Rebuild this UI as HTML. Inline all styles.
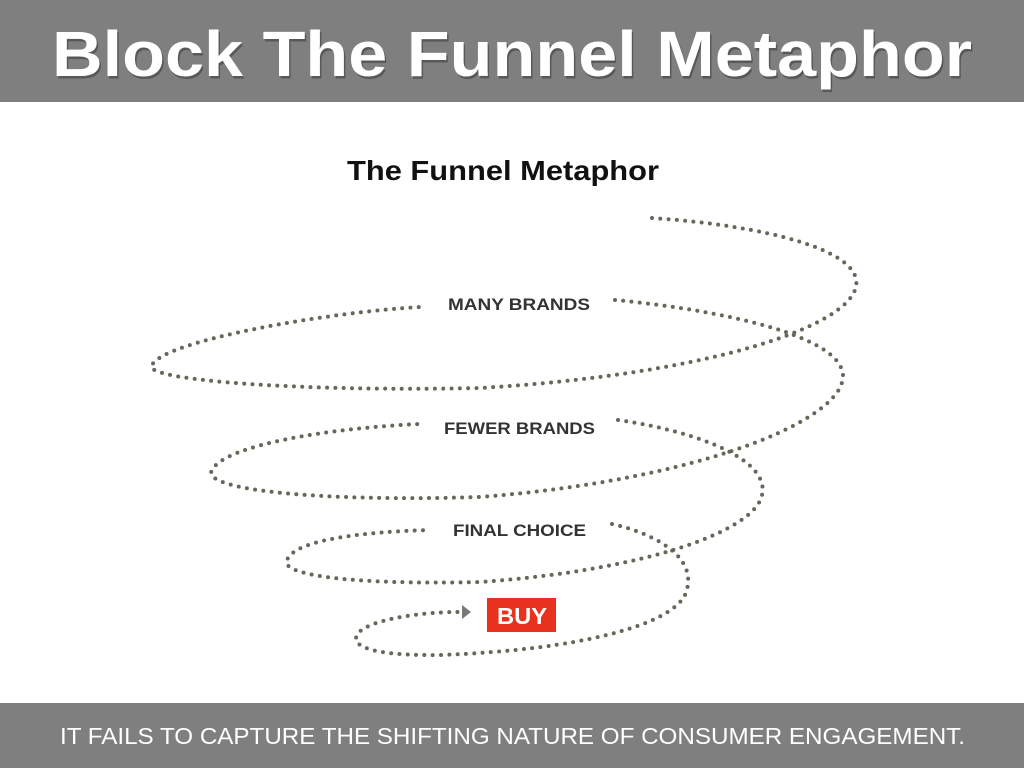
<!DOCTYPE html>
<html><head><meta charset="utf-8"><style>
html,body{margin:0;padding:0;width:1024px;height:768px;background:#fff;overflow:hidden;font-family:"Liberation Sans",sans-serif;}
</style></head><body>
<svg style="position:absolute;left:0;top:0" width="1024" height="768">
<rect x="0" y="0" width="1024" height="102" fill="#7f7f7f"/>
<rect x="0" y="703" width="1024" height="65" fill="#7f7f7f"/>
<text x="52" y="76" font-family="Liberation Sans, sans-serif" font-weight="bold" font-size="64" fill="#000" opacity="0.3" textLength="920" lengthAdjust="spacingAndGlyphs" transform="translate(1.5,2.5)">Block The Funnel Metaphor</text>
<text x="52" y="76" font-family="Liberation Sans, sans-serif" font-weight="bold" font-size="64" fill="#fff" textLength="920" lengthAdjust="spacingAndGlyphs">Block The Funnel Metaphor</text>
<text x="60" y="744" font-family="Liberation Sans, sans-serif" font-size="23" fill="#fff" textLength="905" lengthAdjust="spacingAndGlyphs">IT FAILS TO CAPTURE THE SHIFTING NATURE OF CONSUMER ENGAGEMENT.</text>
<text x="347" y="180" font-family="Liberation Sans, sans-serif" font-weight="bold" font-size="28" fill="#111" textLength="312" lengthAdjust="spacingAndGlyphs">The Funnel Metaphor</text>
<g fill="none" stroke="#666659" stroke-width="4" stroke-linecap="round" stroke-dasharray="0 8.3">
<path d="M652,218 C760,225 870,250 855,290 C840,330 700,375 480,388 C300,392 140,380 152,365 C165,340 330,312 420,307"/>
<path d="M615,300 C720,310 840,335 843,375 C845,420 700,480 480,497 C320,502 200,490 212,470 C225,445 330,428 420,424"/>
<path d="M618,420 C700,432 770,460 762,495 C755,530 650,570 480,582 C350,585 280,575 287,560 C295,540 360,532 430,530"/>
<path d="M612,524 C660,535 700,560 685,595 C670,625 580,650 440,655 C380,656 350,648 357,635 C365,620 420,612 458,612"/>
</g>
<polygon points="462,605 471,612 462,619" fill="#777"/>
<rect x="487" y="598" width="69" height="34" fill="#e8321e"/>
<g font-family="Liberation Sans, sans-serif" font-weight="bold" fill="#333" font-size="17">
<text x="448" y="310" textLength="142" lengthAdjust="spacingAndGlyphs">MANY BRANDS</text>
<text x="444" y="434" textLength="151" lengthAdjust="spacingAndGlyphs">FEWER BRANDS</text>
<text x="453" y="536" textLength="133" lengthAdjust="spacingAndGlyphs">FINAL CHOICE</text>
<text x="497" y="624" font-size="23" fill="#fff" textLength="50" lengthAdjust="spacingAndGlyphs">BUY</text>
</g>
</svg>
</body></html>
